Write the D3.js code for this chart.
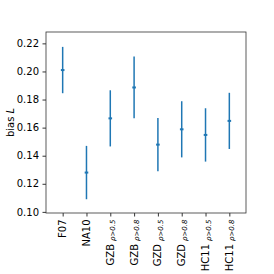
<!DOCTYPE html>
<meta charset="utf-8">
<script src="https://d3js.org/d3.v7.min.js"></script>
<style>
    body { margin: 0; background: white; }
    text { font-family: "DejaVu Sans", sans-serif; fill: black; }
</style>
<body>
<div id="my_dataviz"></div>
</body>
<script>
    // sample names and the rho cut that goes with them (empty = none)
    const names = ["F07", "NA10", "GZB", "GZB", "GZD", "GZD", "HC11", "HC11"];
    const cuts = ["", "", "0.5", "0.8", "0.5", "0.8", "0.5", "0.8"];
    const bias = [0.201, 0.128, 0.1666, 0.1886, 0.1479, 0.1588, 0.1548, 0.1648];
    const errs = [0.0165, 0.019, 0.020, 0.022, 0.019, 0.020, 0.019, 0.020];
    const yTicks = [0.10, 0.12, 0.14, 0.16, 0.18, 0.20, 0.22];

    let margin = {top: 32, right: 28, bottom: 61, left: 46},
        width = 274 - margin.left - margin.right,
        height = 274 - margin.top - margin.bottom;

    var svg = d3.select("#my_dataviz")
        .append("svg")
        .attr("width", 274)
        .attr("height", 274)
        .append("g")
        .attr("transform", "translate(" + margin.left + "," + margin.top + ")");

    var x = d3.scaleLinear()
        .domain([-0.7, 7.7])
        .range([0, width]);

    var y = d3.scaleLinear()
        .domain([0.0992, 0.2281])
        .range([height, 0]);

    // y axis
    var yAxis = svg.append("g")
        .call(d3.axisLeft(y).tickValues(yTicks).tickSize(3.5).tickPadding(3.5)
            .tickFormat(d3.format(".2f")));
    yAxis.select(".domain").remove();
    yAxis.selectAll("line").attr("stroke", "black").attr("stroke-width", 0.8);
    yAxis.selectAll("text").style("font-size", "10px");

    // x axis
    var idx = d3.range(names.length);
    var xAxis = svg.append("g")
        .attr("transform", "translate(0," + height + ")")
        .call(d3.axisBottom(x).tickValues(idx).tickSize(3.5).tickFormat(""));
    xAxis.select(".domain").remove();
    xAxis.selectAll("line").attr("stroke", "black").attr("stroke-width", 0.8);

    var labels = svg.append("g")
        .selectAll("text")
        .data(idx)
        .enter()
        .append("text")
        .attr("transform", function (i) {
            return "translate(" + (x(i) + 3.5) + "," + (height + 6.5) + ") rotate(-90)";
        })
        .attr("text-anchor", "end")
        .style("font-size", "10px");
    labels.append("tspan").text(function (i) { return names[i]; });
    labels.filter(function (i) { return cuts[i] !== ""; })
        .append("tspan")
        .attr("dx", 3)
        .attr("dy", 1.5)
        .style("font-size", "7px")
        .style("font-style", "italic")
        .text(function (i) { return "ρ>" + cuts[i]; });

    // frame
    svg.append("rect")
        .attr("x", 0)
        .attr("y", 0)
        .attr("width", width)
        .attr("height", height)
        .attr("fill", "none")
        .attr("stroke", "#333")
        .attr("stroke-width", 0.8);

    // error bars
    svg.selectAll(".err")
        .data(idx)
        .enter()
        .append("line")
        .attr("x1", function (i) { return x(i); })
        .attr("x2", function (i) { return x(i); })
        .attr("y1", function (i) { return y(bias[i] - errs[i]); })
        .attr("y2", function (i) { return y(bias[i] + errs[i]); })
        .attr("stroke", "#1f77b4")
        .attr("stroke-width", 1.5);

    // centre markers
    svg.selectAll(".pt")
        .data(idx)
        .enter()
        .append("rect")
        .attr("x", function (i) { return x(i) - 1.8; })
        .attr("y", function (i) { return y(bias[i]) - 1; })
        .attr("width", 3.6)
        .attr("height", 2)
        .attr("fill", "#1f77b4");

    // y label
    var yl = svg.append("text")
        .attr("transform", "translate(-32," + (height / 2) + ") rotate(-90)")
        .attr("text-anchor", "middle")
        .style("font-size", "10px");
    yl.append("tspan").text("bias ");
    yl.append("tspan").style("font-style", "italic").text("L");
</script>
</html>
